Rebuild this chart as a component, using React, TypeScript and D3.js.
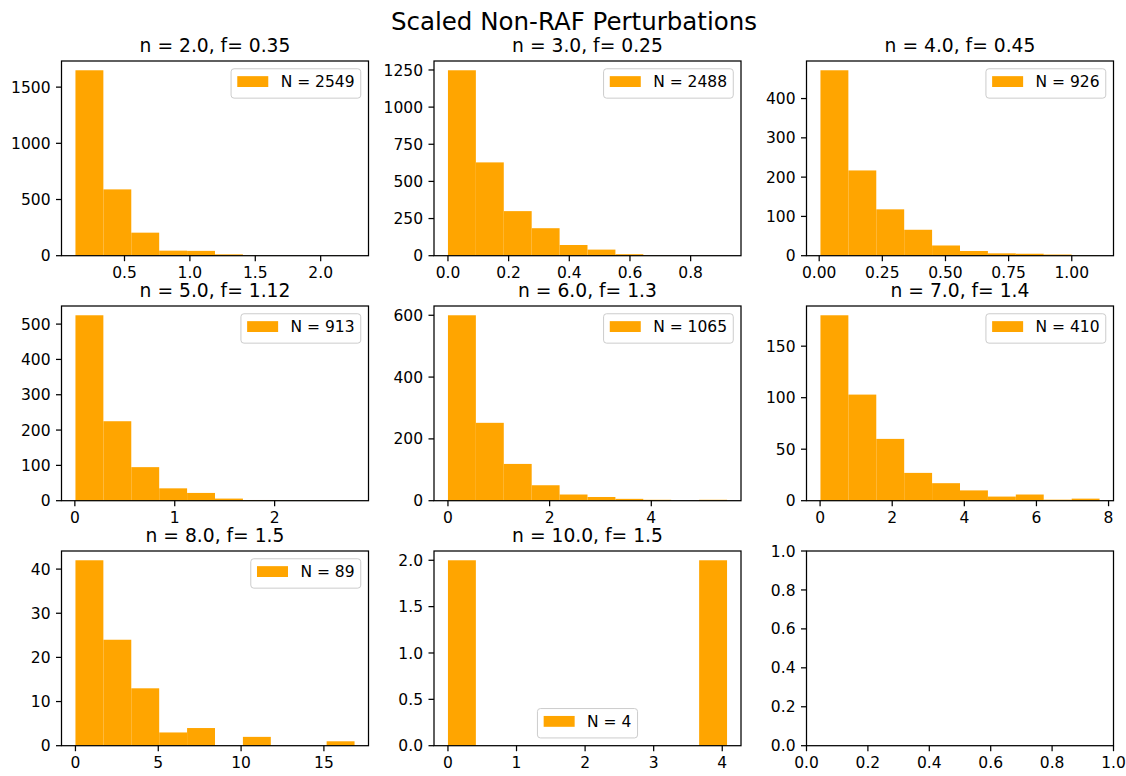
import React from 'react';
import * as d3 from 'd3';

const suptitle = 'Scaled Non-RAF Perturbations';
const panelTitles = [
  'n = 2.0, f= 0.35',
  'n = 3.0, f= 0.25',
  'n = 4.0, f= 0.45',
  'n = 5.0, f= 1.12',
  'n = 6.0, f= 1.3',
  'n = 7.0, f= 1.4',
  'n = 8.0, f= 1.5',
  'n = 10.0, f= 1.5',
];
const legendN = [2549, 2488, 926, 913, 1065, 410, 89, 4];
const legendLoc = ['ur', 'ur', 'ur', 'ur', 'ur', 'ur', 'ur', 'lc'];

// histogram bin range (min, max of data) for each panel
const binLo = [0.125, 0.0, 0.005, 0.006, 0.0, 0.01, 0.0, 0.0];
const binHi = [2.259, 0.92, 1.11, 2.8, 5.49, 7.75, 16.85, 4.07];

// counts (10 bins each)
const counts1 = [1650, 590, 205, 45, 43, 12, 2, 1, 0, 1];
const counts2 = [1248, 628, 300, 185, 72, 41, 10, 2, 1, 1];
const counts3 = [472, 217, 118, 66, 26, 12, 6, 5, 3, 1];
const counts4 = [525, 225, 95, 35, 22, 6, 2, 1, 1, 1];
const counts5 = [600, 252, 119, 50, 20, 12, 6, 3, 0, 3];
const counts6 = [180, 103, 60, 27, 17, 10, 4, 6, 1, 2];
const counts7 = [42, 24, 13, 3, 4, 0, 2, 0, 0, 1];
const counts8 = [2, 0, 0, 0, 0, 0, 0, 0, 0, 2];
const allCounts = [counts1, counts2, counts3, counts4, counts5, counts6, counts7, counts8];

// tick values
const xTicks = [
  [0.5, 1.0, 1.5, 2.0],
  [0.0, 0.2, 0.4, 0.6, 0.8],
  [0.0, 0.25, 0.5, 0.75, 1.0],
  [0, 1, 2],
  [0, 2, 4],
  [0, 2, 4, 6, 8],
  [0, 5, 10, 15],
  [0, 1, 2, 3, 4],
  [0.0, 0.2, 0.4, 0.6, 0.8, 1.0],
];
const yTicks = [
  [0, 500, 1000, 1500],
  [0, 250, 500, 750, 1000, 1250],
  [0, 100, 200, 300, 400],
  [0, 100, 200, 300, 400, 500],
  [0, 200, 400, 600],
  [0, 50, 100, 150],
  [0, 10, 20, 30, 40],
  [0.0, 0.5, 1.0, 1.5, 2.0],
  [0.0, 0.2, 0.4, 0.6, 0.8, 1.0],
];
const xFmt = ['.1f', '.1f', '.2f', 'd', 'd', 'd', 'd', 'd', '.1f'];
const yFmt = ['d', 'd', 'd', 'd', 'd', 'd', 'd', '.1f', '.1f'];

// layout
const FIG_W = 1126;
const FIG_H = 776;
const colLeft = [61.5, 434, 806.5];
const rowTop = [61, 306, 551];
const AX_W = 307;
const AX_H = 194.7;
const FS = 15.5;
const FONT = 'DejaVu Sans, sans-serif';
const BAR = '#FFA500';
const TICK = 5.5;
const PAD = 5.5;
const LW = 1.25;

function textWidth(s: string, size: number) {
  const c = document.createElement('canvas').getContext('2d');
  if (!c) return s.length * size * 0.6;
  c.font = `${size}px "DejaVu Sans"`;
  return c.measureText(s).width;
}

function Panel(props: any) {
  const { idx, left, top } = props;
  const counts: number[] | null = idx < 8 ? allCounts[idx] : null;
  const lo = idx < 8 ? binLo[idx] : 0;
  const hi = idx < 8 ? binHi[idx] : 1;
  const R = hi - lo;
  const x = d3
    .scaleLinear()
    .domain(counts ? [lo - 0.05 * R, hi + 0.05 * R] : [0, 1])
    .range([left, left + AX_W]);
  const yMax = counts ? (d3.max(counts) as number) * 1.05 : 1;
  const y = d3.scaleLinear().domain([0, yMax]).range([top + AX_H, top]);
  const n = counts ? counts.length : 0;
  const bins = d3.range(n).map((i) => ({
    x0: lo + (i * R) / n,
    x1: lo + ((i + 1) * R) / n,
    c: counts ? counts[i] : 0,
  }));
  const fx = d3.format(xFmt[idx]);
  const fy = d3.format(yFmt[idx]);
  const bottom = top + AX_H;

  let legend = null;
  if (counts) {
    const label = `N = ${legendN[idx]}`;
    const tw = textWidth(label, FS);
    const bw = 0.4 * FS * 2 + 2 * FS + 0.8 * FS + tw;
    const bh = 29.4;
    let lx: number, ly: number;
    if (legendLoc[idx] === 'ur') {
      lx = left + AX_W - 0.5 * FS - bw;
      ly = top + 0.5 * FS;
    } else {
      lx = left + AX_W / 2 - bw / 2;
      ly = bottom - 0.5 * FS - bh;
    }
    legend = (
      <g>
        <rect x={lx} y={ly} width={bw} height={bh} rx={3} ry={3} fill="white" fillOpacity={0.8} stroke="#cccccc" strokeWidth={1} />
        <rect x={lx + 0.4 * FS} y={ly + 7.4} width={2 * FS} height={0.7 * FS} fill={BAR} />
        <text x={lx + 0.4 * FS + 2.8 * FS} y={ly + 18.4} fontSize={FS} fontFamily={FONT} fill="black">
          {label}
        </text>
      </g>
    );
  }

  return (
    <g>
      {idx < 8 && (
        <text x={left + AX_W / 2} y={top - 9.4} textAnchor="middle" fontSize={18.7} fontFamily={FONT} fill="black">
          {panelTitles[idx]}
        </text>
      )}
      {bins
        .filter((b) => b.c > 0)
        .map((b, i) => (
          <rect key={i} x={x(b.x0)} y={y(b.c)} width={x(b.x1) - x(b.x0)} height={y(0) - y(b.c)} fill={BAR} />
        ))}
      <rect x={left} y={top} width={AX_W} height={AX_H} fill="none" stroke="black" strokeWidth={LW} />
      {xTicks[idx].map((t, i) => (
        <g key={'x' + i}>
          <line x1={x(t)} x2={x(t)} y1={bottom} y2={bottom + TICK} stroke="black" strokeWidth={LW} />
          <text x={x(t)} y={bottom + TICK + PAD + 11.3} textAnchor="middle" fontSize={FS} fontFamily={FONT} fill="black">
            {fx(t)}
          </text>
        </g>
      ))}
      {yTicks[idx].map((t, i) => (
        <g key={'y' + i}>
          <line x1={left - TICK} x2={left} y1={y(t)} y2={y(t)} stroke="black" strokeWidth={LW} />
          <text x={left - TICK - PAD} y={y(t) + 5.6} textAnchor="end" fontSize={FS} fontFamily={FONT} fill="black">
            {fy(t)}
          </text>
        </g>
      ))}
      {legend}
    </g>
  );
}

export default function App() {
  const panels = d3.range(9).map((i) => ({ idx: i, left: colLeft[i % 3], top: rowTop[Math.floor(i / 3)] }));
  return (
    <svg
      width={FIG_W}
      height={FIG_H}
      style={{ position: 'absolute', left: 0, top: 0, background: 'white' }}
    >
      <rect x={0} y={0} width={FIG_W} height={FIG_H} fill="white" />
      <text x={574} y={30} textAnchor="middle" fontSize={24.5} fontFamily={FONT} fill="black">
        {suptitle}
      </text>
      {panels.map((p) => (
        <Panel key={p.idx} {...p} />
      ))}
    </svg>
  );
}
